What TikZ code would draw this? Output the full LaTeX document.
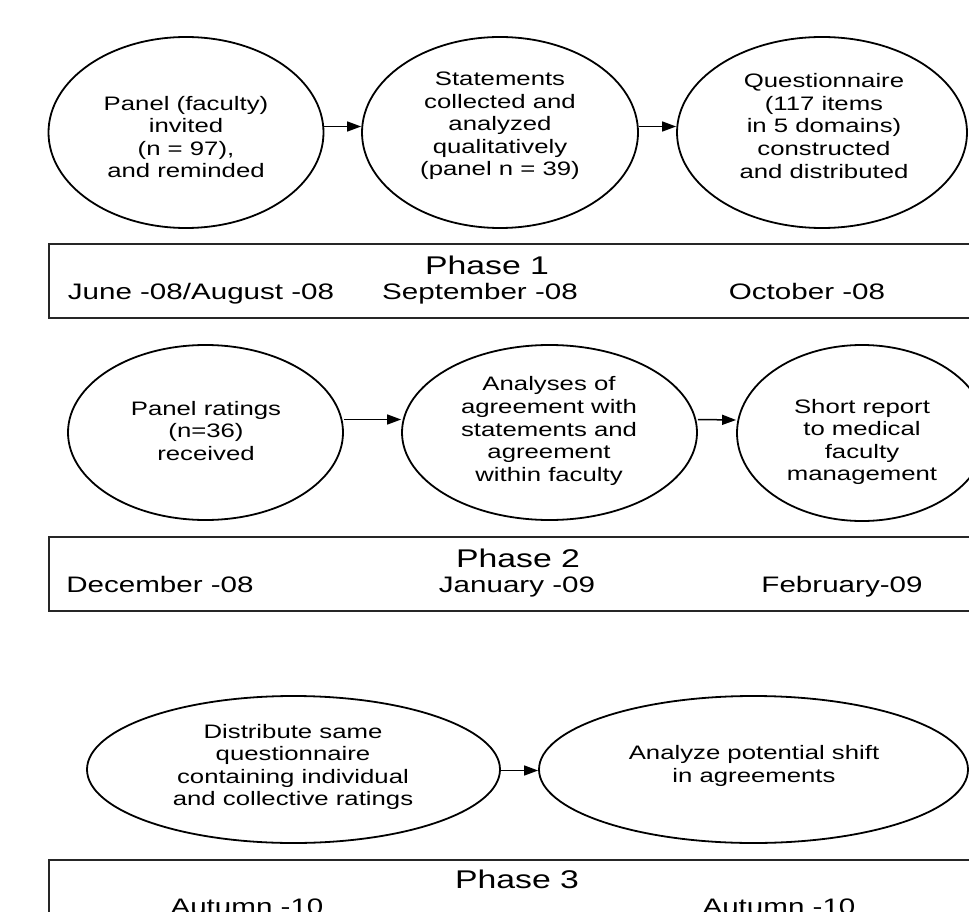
\documentclass[tikz,border=0pt]{standalone}
\usepackage{fontspec}
\setmainfont{Liberation Sans}[FakeStretch=1.32]
\usetikzlibrary{shapes.geometric,arrows.meta}
\begin{document}
\begin{tikzpicture}[x=1pt,y=-1pt,
  oval/.style={ellipse, draw, line width=1.8pt, inner sep=0pt},
  etext/.style={align=center, inner sep=0pt, font=\fontsize{19.5}{22.6}\selectfont},
  phasebox/.style={draw, line width=2pt, draw=black!85, rectangle, anchor=north west, inner sep=0pt, minimum width=1000pt, minimum height=74pt},
  phasetext/.style={anchor=base, inner sep=0pt, font=\fontsize{25.6}{28}\selectfont},
  datetext/.style={anchor=base, inner sep=0pt, font=\fontsize{22.4}{26}\selectfont},
  arr/.style={line width=1.5pt, -{Triangle[length=14pt,width=10pt]}}
]
\useasboundingbox (0,0) rectangle (969,912);
\clip (0,0) rectangle (969,912);
\fill[white] (0,0) rectangle (969,912);

% Phase 1
\node[oval, minimum width=275pt, minimum height=191pt] (e1) at (186,132.5) {};
\node[oval, minimum width=276pt, minimum height=191pt] (e2) at (500,132.5) {};
\node[oval, minimum width=290pt, minimum height=191pt] (e3) at (822,132.5) {};
\node[etext] (t1) at (186,137) {Panel (faculty)\\invited\\(n = 97),\\and reminded};
\node[etext] (t2) at (500,126) {Statements\\collected and\\analyzed\\qualitatively\\(panel n = 39)};
\node[etext] (t3) at (824,126) {Questionnaire\\(117 items\\in 5 domains)\\constructed\\and distributed};
\draw[arr] ([yshift=6pt]e1.east) -- ([yshift=6pt]e2.west);
\draw[arr] ([yshift=6pt]e2.east) -- ([yshift=6pt]e3.west);

\node[phasebox] (b1) at (48,243) {};
\node[phasetext] (p1) at (487,274) {Phase 1};
\node[datetext] (d11) at (201,299) {June -08/August -08};
\node[datetext] (d12) at (480,299) {September -08};
\node[datetext] (d13) at (807,299) {October -08};

% Phase 2
\node[oval, minimum width=275pt, minimum height=175pt] (e4) at (205.5,432.5) {};
\node[oval, minimum width=295pt, minimum height=175pt] (e5) at (549.5,432.5) {};
\node[oval, minimum width=250pt, minimum height=176pt] (e6) at (862,433) {};
\node[etext] (t4) at (206,431) {Panel ratings\\(n=36)\\received};
\node[etext] (t5) at (549,431) {Analyses of\\agreement with\\statements and\\agreement\\within faculty};
\node[etext] (t6) at (862,442) {Short report\\to medical\\faculty\\management};
\draw[arr] ([yshift=13pt]e4.east) -- ([yshift=13pt]e5.west);
\draw[arr] ([yshift=13pt]e5.east) -- ([yshift=13pt]e6.west);

\node[phasebox] (b2) at (48,536) {};
\node[phasetext] (p2) at (518,567) {Phase 2};
\node[datetext] (d21) at (160,592) {December -08};
\node[datetext] (d22) at (517,592) {January -09};
\node[datetext] (d23) at (842,592) {February-09};

% Phase 3
\node[oval, minimum width=413pt, minimum height=147pt] (e7) at (293.5,769.5) {};
\node[oval, minimum width=429pt, minimum height=147pt] (e8) at (753.5,769.5) {};
\node[etext] (t7) at (293,767) {Distribute same\\questionnaire\\containing individual\\and collective ratings};
\node[etext] (t8) at (754,766) {Analyze potential shift\\in agreements};
\draw[arr] ([yshift=-1pt]e7.east) -- ([yshift=-1pt]e8.west);

\node[phasebox] (b3) at (48,859) {};
\node[phasetext] (p3) at (517,888) {Phase 3};
\node[datetext] (d31) at (247,914) {Autumn -10};
\node[datetext] (d32) at (779,914) {Autumn -10};
\end{tikzpicture}
\end{document}
